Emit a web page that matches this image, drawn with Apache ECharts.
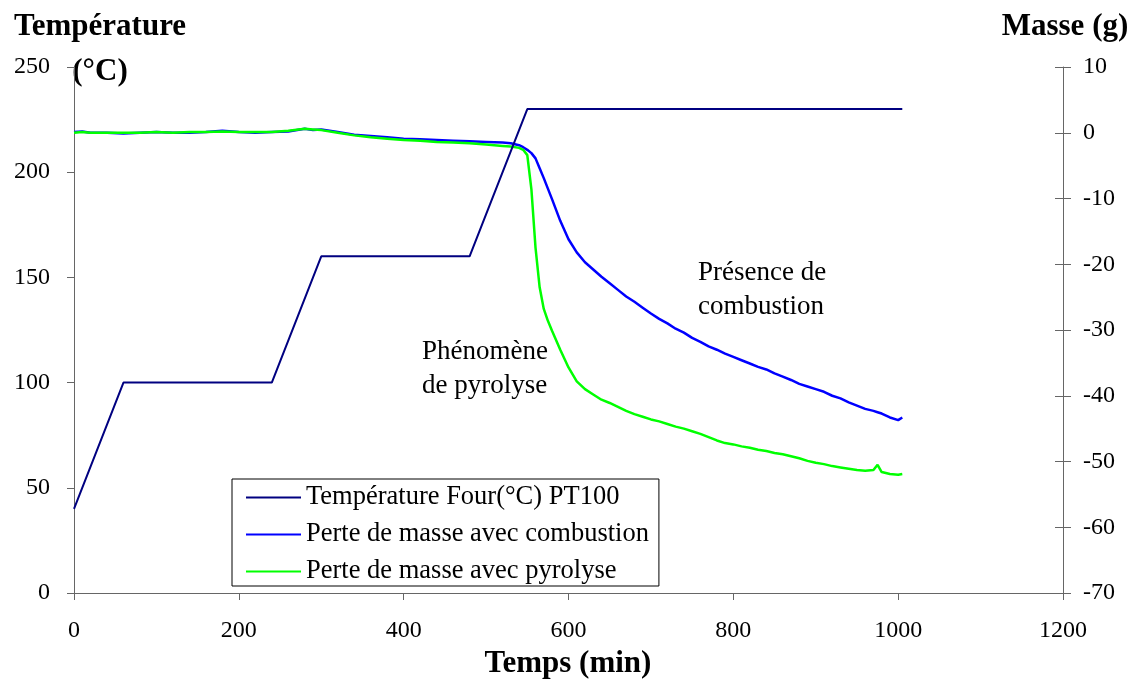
<!DOCTYPE html>
<html>
<head>
<meta charset="utf-8">
<script src="https://cdn.jsdelivr.net/npm/echarts@6/dist/echarts.min.js"></script>
<style>
  html, body { margin: 0; padding: 0; background: #fff; }
  #chart { width: 1135px; height: 682px; }
</style>
</head>
<body>
<div id="chart"></div>
<script>
// temperature set-point of the oven (°C) vs time (min)
var tempTime = [0, 60, 240, 300, 480, 550, 1005];
var tempValue = [40, 100, 100, 160, 160, 230, 230];

// mass loss (g) vs time (min)
var massTime = [0, 10, 20, 40, 60, 80, 100, 120, 140, 160,
  180, 200, 220, 240, 260, 280, 290, 300, 320, 340,
  360, 380, 400, 420, 440, 460, 480, 500, 520, 530,
  540, 545, 550, 555, 560, 565, 570, 575, 580, 590,
  600, 610, 620, 630, 640, 650, 660, 670, 680, 690,
  700, 710, 720, 730, 740, 750, 760, 770, 780, 790,
  800, 810, 820, 830, 840, 850, 860, 870, 880, 890,
  900, 910, 920, 930, 940, 950, 960,
  970, 975, 980, 990, 1000, 1005];
var combustion = [0.1, 0.2, 0.0, 0.0, -0.1, 0.0, 0.1, 0.0, 0.0, 0.1,
  0.3, 0.1, 0.0, 0.1, 0.2, 0.6, 0.4, 0.5, 0.1, -0.3,
  -0.5, -0.7, -0.9, -1.0, -1.1, -1.2, -1.3, -1.4, -1.5, -1.6,
  -1.9, -2.2, -2.6, -3.1, -3.9, -5.4, -6.9, -8.5, -10.1, -13.4,
  -16.2, -18.2, -19.7, -20.8, -21.9, -22.9, -23.9, -24.9, -25.7, -26.6,
  -27.5, -28.3, -29.0, -29.8, -30.4, -31.2, -31.8, -32.5, -33.0, -33.6,
  -34.1, -34.6, -35.1, -35.6, -36.0, -36.6, -37.1, -37.6, -38.2, -38.6,
  -39.0, -39.4, -40.0, -40.4, -41.0, -41.5, -42.0,
  -42.3, -42.5, -42.7, -43.3, -43.7, -43.3];
var pyrolyse = [0.0, 0.1, 0.0, 0.0, 0.0, 0.0, 0.1, 0.0, 0.1, 0.1,
  0.2, 0.1, 0.1, 0.1, 0.3, 0.6, 0.5, 0.4, 0.0, -0.4,
  -0.7, -0.9, -1.1, -1.2, -1.4, -1.5, -1.6, -1.8, -2.0, -2.1,
  -2.3, -2.6, -3.4, -8.6, -17.5, -23.5, -26.8, -28.6, -30.1, -33.0,
  -35.7, -37.8, -39.0, -39.8, -40.6, -41.1, -41.7, -42.3, -42.8, -43.2,
  -43.6, -43.9, -44.3, -44.7, -45.0, -45.4, -45.8, -46.3, -46.8, -47.2,
  -47.4, -47.7, -47.9, -48.2, -48.4, -48.7, -48.9, -49.2, -49.5, -49.9,
  -50.2, -50.4, -50.7, -50.9, -51.1, -51.3, -51.4,
  -51.3, -50.5, -51.6, -51.9, -52.0, -51.9];

var seriesNames = ['Température Four(°C) PT100', 'Perte de masse avec combustion', 'Perte de masse avec pyrolyse'];
var seriesColors = ['#000080', '#0000FF', '#00FF00'];

function pairs(xs, ys) {
  return xs.map(function (x, i) { return [x, ys[i]]; });
}

var FONT = '"Liberation Serif", "Times New Roman", serif';
var AXIS_COLOR = '#666';
var plain = function (v) { return String(v); };

var chart = echarts.init(document.getElementById('chart'));
chart.setOption({
  animation: false,
  grid: {left: 74, right: 72, top: 67, bottom: 89},
  legend: {
    orient: 'vertical',
    left: 232,
    top: 479,
    padding: [5, 10, 1, 14],
    itemWidth: 55,
    itemHeight: 2,
    itemGap: 10,
    icon: 'rect',
    backgroundColor: '#fff',
    borderColor: '#000',
    borderWidth: 1,
    borderRadius: 0,
    textStyle: {fontFamily: FONT, fontSize: 26.5, lineHeight: 26, color: '#000'},
    data: seriesNames
  },
  xAxis: {
    type: 'value',
    min: 0,
    max: 1200,
    interval: 200,
    axisLine: {show: true, lineStyle: {color: AXIS_COLOR, width: 1}},
    axisTick: {show: true, inside: false, length: 7, lineStyle: {color: AXIS_COLOR}},
    axisLabel: {fontFamily: FONT, fontSize: 24, color: '#000', margin: 26, formatter: plain},
    splitLine: {show: false}
  },
  yAxis: [
    {
      type: 'value',
      position: 'left',
      min: 0,
      max: 250,
      interval: 50,
      axisLine: {show: true, lineStyle: {color: AXIS_COLOR, width: 1}},
      axisTick: {show: true, inside: false, length: 7, lineStyle: {color: AXIS_COLOR}},
      axisLabel: {fontFamily: FONT, fontSize: 24, color: '#000', margin: 24, formatter: plain},
      splitLine: {show: false}
    },
    {
      type: 'value',
      position: 'right',
      min: -70,
      max: 10,
      interval: 10,
      axisLine: {show: true, lineStyle: {color: AXIS_COLOR, width: 1}},
      axisTick: {show: true, inside: false, length: 8, lineStyle: {color: AXIS_COLOR}},
      axisLabel: {fontFamily: FONT, fontSize: 24, color: '#000', margin: 20, formatter: plain},
      splitLine: {show: false}
    },
    {
      // inner half of the cross ticks on the right axis
      type: 'value',
      position: 'right',
      min: -70,
      max: 10,
      interval: 10,
      axisLine: {show: false},
      axisTick: {show: true, inside: true, length: 8, lineStyle: {color: AXIS_COLOR}},
      axisLabel: {show: false},
      splitLine: {show: false}
    }
  ],
  graphic: [
    {type: 'text', style: {text: 'Température', x: 100, y: 27, textAlign: 'center', textVerticalAlign: 'middle', fontFamily: FONT, fontSize: 31, fontWeight: 'bold', fill: '#000'}},
    {type: 'text', style: {text: '(°C)', x: 100, y: 72, textAlign: 'center', textVerticalAlign: 'middle', fontFamily: FONT, fontSize: 31, fontWeight: 'bold', fill: '#000'}},
    {type: 'text', style: {text: 'Masse (g)', x: 1065, y: 27, textAlign: 'center', textVerticalAlign: 'middle', fontFamily: FONT, fontSize: 31, fontWeight: 'bold', fill: '#000'}},
    {type: 'text', style: {text: 'Temps (min)', x: 568, y: 664, textAlign: 'center', textVerticalAlign: 'middle', fontFamily: FONT, fontSize: 31, fontWeight: 'bold', fill: '#000'}},
    {type: 'text', style: {text: 'Phénomène\nde pyrolyse', x: 422, y: 335, lineHeight: 34, fontFamily: FONT, fontSize: 27, fill: '#000'}},
    {type: 'text', style: {text: 'Présence de\ncombustion', x: 698, y: 256, lineHeight: 34, fontFamily: FONT, fontSize: 27, fill: '#000'}}
  ],
  series: [
    {
      name: seriesNames[0],
      type: 'line',
      yAxisIndex: 0,
      data: pairs(tempTime, tempValue),
      showSymbol: false,
      itemStyle: {color: seriesColors[0]},
      lineStyle: {color: seriesColors[0], width: 2},
      z: 3
    },
    {
      name: seriesNames[1],
      type: 'line',
      yAxisIndex: 1,
      data: pairs(massTime, combustion),
      showSymbol: false,
      itemStyle: {color: seriesColors[1]},
      lineStyle: {color: seriesColors[1], width: 2.5},
      z: 2
    },
    {
      name: seriesNames[2],
      type: 'line',
      yAxisIndex: 1,
      data: pairs(massTime, pyrolyse),
      showSymbol: false,
      itemStyle: {color: seriesColors[2]},
      lineStyle: {color: seriesColors[2], width: 2.5},
      z: 2
    }
  ]
});
</script>
</body>
</html>
